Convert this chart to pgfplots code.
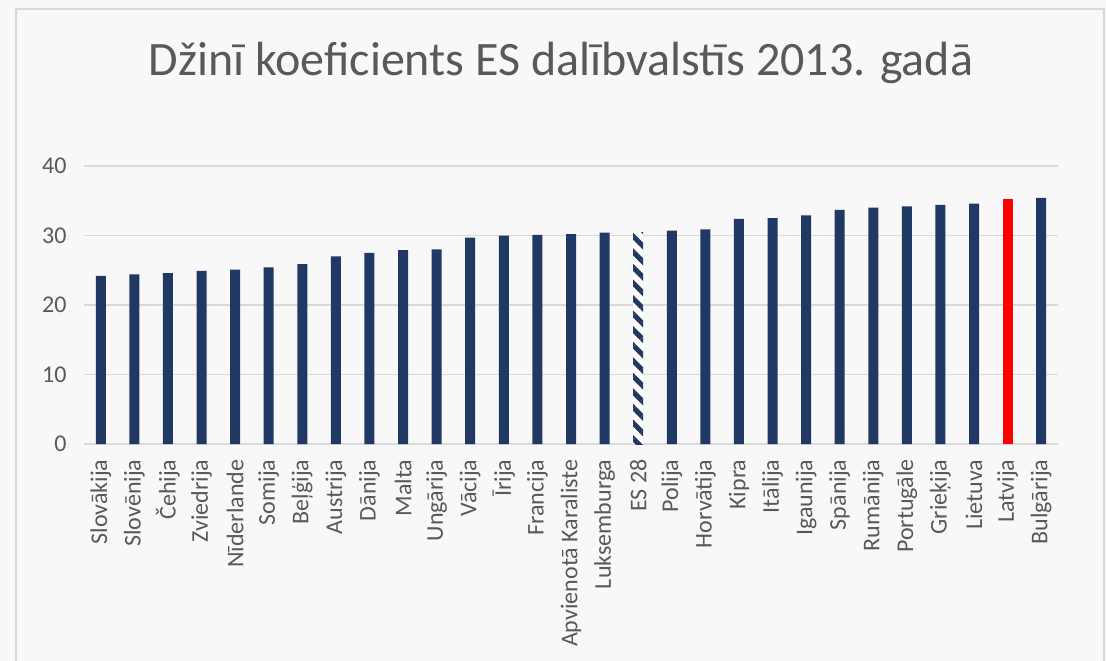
\documentclass[border=0pt]{standalone}
\usepackage{fontspec}
\setmainfont{Carlito}
\usepackage{pgfplots}
\pgfplotsset{compat=1.18}
\usetikzlibrary{patterns.meta}
\definecolor{navy}{HTML}{203864}
\definecolor{txt}{HTML}{595959}
\definecolor{gridc}{HTML}{D9D9D9}
\definecolor{bg}{HTML}{F8F8F8}
\begin{document}
\begin{tikzpicture}[x=1pt,y=1pt]
\fill[bg] (0,0) rectangle (1106,-661);
\path[use as bounding box] (0,0) rectangle (1106,-661);
\draw[gridc, line width=1.5pt] (16,-700) -- (16,-9) -- (1104,-9) -- (1104,-700);
\node[anchor=base, text=txt, font=\fontsize{48}{56}\selectfont] at (561,-75) {Džinī koeficients ES dalībvalstīs 2013. gadā};
\begin{axis}[
  at={(84pt,-444pt)}, anchor=south west,
  scale only axis, width=974pt, height=278pt,
  xmin=-0.5, xmax=28.5, ymin=0, ymax=40,
  ytick={0,10,20,30,40},
  xtick={0,...,28},
  xticklabels={Slovākija,Slovēnija,Čehija,Zviedrija,Nīderlande,Somija,Beļģija,Austrija,Dānija,Malta,Ungārija,Vācija,Īrija,Francija,Apvienotā Karaliste,Luksemburga,ES 28,Polija,Horvātija,Kipra,Itālija,Igaunija,Spānija,Rumānija,Portugāle,Grieķija,Lietuva,Latvija,Bulgārija},
  axis line style={draw=none},
  major tick length=0pt,
  ymajorgrids, xmajorgrids=false,
  major grid style={draw=gridc, line width=1.2pt},
  tick label style={text=txt, font=\fontsize{24}{28}\selectfont},
  /pgf/number format/assume math mode=true,
  xticklabel style={rotate=90, anchor=east},
  xticklabel shift=12pt,
  yticklabel shift=14pt,
  ybar, bar width=10pt, bar shift=0pt,
  clip=false,
]
\addplot[fill=navy, draw=none] coordinates {
(0,24.2) (1,24.4) (2,24.6) (3,24.9) (4,25.1) (5,25.4) (6,25.9) (7,27.0) (8,27.5) (9,27.9)
(10,28.0) (11,29.7) (12,30.0) (13,30.1) (14,30.2) (15,30.4)
(17,30.7) (18,30.9) (19,32.4) (20,32.5) (21,32.9) (22,33.7) (23,34.0) (24,34.2) (25,34.4) (26,34.6)
(28,35.4)};
\addplot[draw=none, preaction={fill=white}, pattern={Lines[angle=-45,distance=11pt,line width=5pt]}, pattern color=navy] coordinates {(16,30.5)};
\addplot[fill=red, draw=none] coordinates {(27,35.2)};
\end{axis}
\end{tikzpicture}
\end{document}
